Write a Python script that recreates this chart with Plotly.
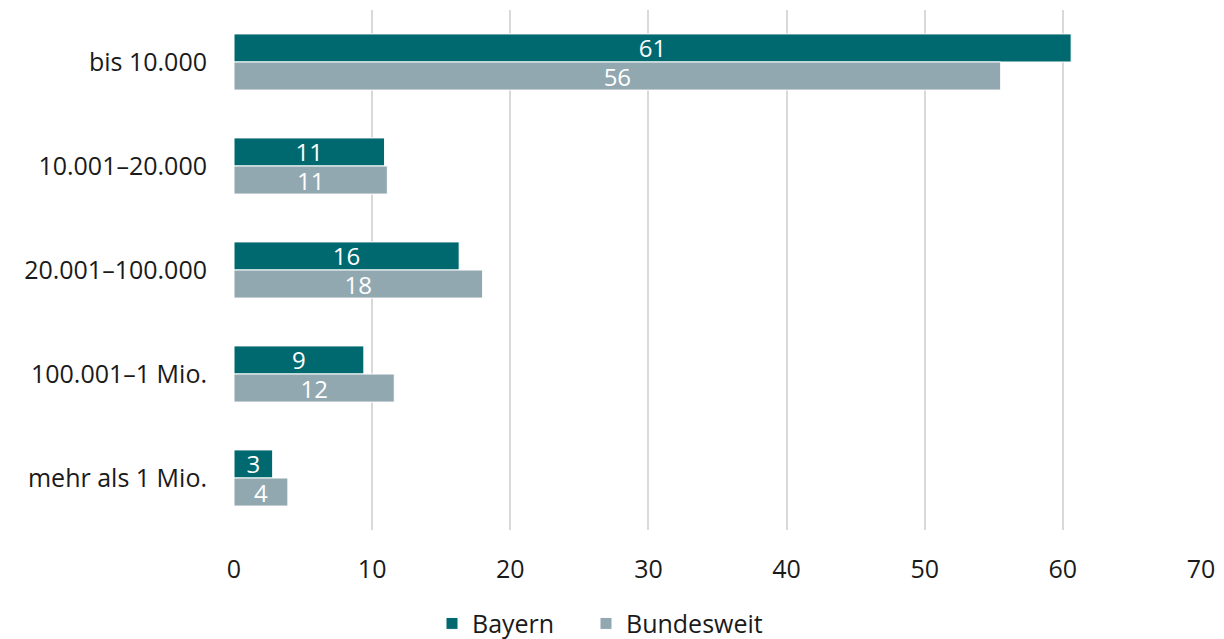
import plotly.graph_objects as go

# Gemeindegrößenklassen (Einwohner)
kategorien = ["bis 10.000", "10.001–20.000", "20.001–100.000", "100.001–1 Mio.", "mehr als 1 Mio."]
bayern = [60.6, 10.9, 16.3, 9.4, 2.8]
bundesweit = [55.5, 11.1, 18.0, 11.6, 3.9]
x_ticks = [0, 10, 20, 30, 40, 50, 60, 70]

schrift = "Open Sans"
gr = 25

fig = go.Figure()

for name, werte, farbe, leg in [("Bayern", bayern, "#00696f", "legend"),
                                ("Bundesweit", bundesweit, "#91a8b0", "legend2")]:
    fig.add_trace(go.Bar(
        y=kategorien, x=werte, orientation="h", name=name, legend=leg, showlegend=True,
        marker=dict(color=farbe, line=dict(color="white", width=1)),
        texttemplate="%{x:.0f}", textposition="inside", insidetextanchor="middle",
        textangle=0, textfont=dict(family=schrift, size=24, color="white"),
        constraintext="none",
    ))

leg_basis = dict(orientation="h", xref="container", yref="container", y=0.024,
                 xanchor="left", yanchor="middle", font=dict(size=gr), itemwidth=30)

fig.update_layout(
    width=1224, height=639, showlegend=True,
    barmode="group", bargap=0.46, bargroupgap=0,
    plot_bgcolor="white", paper_bgcolor="white",
    margin=dict(l=234, r=23, t=10, b=109),
    font=dict(family=schrift, size=gr, color="#1a1a1a"),
    xaxis=dict(
        range=[0, 70], tickvals=x_ticks, showgrid=True, gridcolor="#d9d9d9", gridwidth=2,
        zeroline=False, showline=False, ticklabelstandoff=22, automargin=False,
    ),
    yaxis=dict(
        autorange="reversed", showgrid=False, zeroline=False, showline=False,
        ticklabelstandoff=26, automargin=False,
    ),
    legend=dict(leg_basis, x=432 / 1224),
    legend2=dict(leg_basis, x=586 / 1224),
)

fig.write_html("out.html", config={"displayModeBar": False},
               post_script="document.body.style.margin='0';")
